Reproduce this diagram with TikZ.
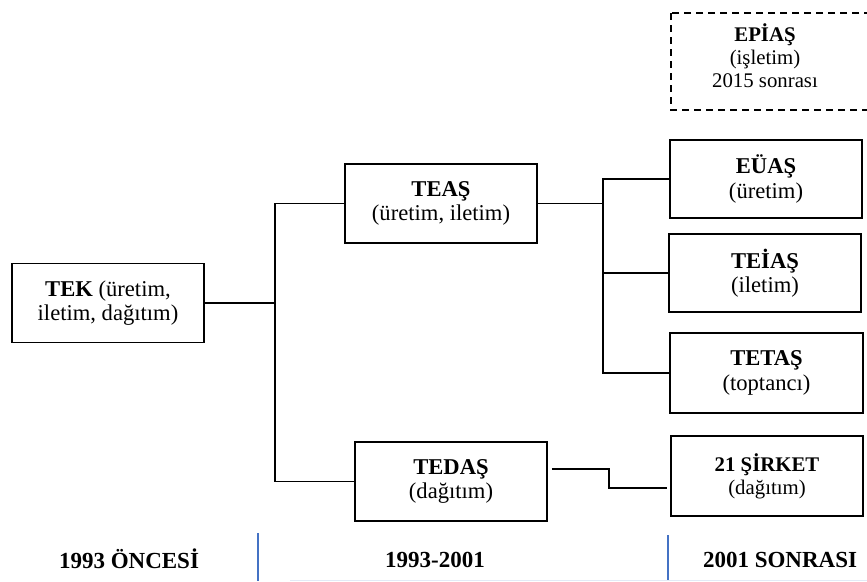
\documentclass[tikz,border=0pt]{standalone}
\usepackage{fontspec}
\setmainfont{Liberation Serif}
\usepackage{tikz}
\usetikzlibrary{calc}
\definecolor{mavi}{RGB}{68,114,196}
\definecolor{acikmavi}{RGB}{226,234,246}

\begin{document}
\begin{tikzpicture}[x=1pt,y=-1pt,
kutu/.style={draw,line width=1.9pt,minimum width=192pt,minimum height=79pt,inner sep=0pt,align=center,font=\fontsize{22.6}{24.5}\selectfont},
kucuk/.style={font=\fontsize{20.8}{23}\selectfont},
hat/.style={line width=1.7pt},
cizgili/.style={line width=1.7pt,dash pattern=on 7pt off 5pt},
donem/.style={anchor=base,font=\bfseries\fontsize{23}{25}\selectfont},
ayrac/.style={line width=2.2pt,mavi}]

\useasboundingbox (0,0) rectangle (867,581);
\clip (0,0) rectangle (867,581);

\node[kutu] (tek) at (108,303) {\textbf{TEK} (üretim,\\iletim, dağıtım)};
\node[kutu] (teas) at (441,203.5) {\textbf{TEAŞ}\\(üretim, iletim)};
\node[kutu] (tedas) at (451,481.5) {\textbf{TEDAŞ}\\(dağıtım)};
\node[kutu,minimum height=78pt] (euas) at (766,179) {\textbf{EÜAŞ}\\(üretim)};
\node[kutu,minimum height=78pt] (teias) at (765,273) {\textbf{TEİAŞ}\\(iletim)};
\node[kutu,minimum width=193pt,minimum height=80pt] (tetas) at (766.5,373) {\textbf{TETAŞ}\\(toptancı)};
\node[kutu,kucuk,minimum height=80pt] (sirket) at (767,476) {\textbf{21 ŞİRKET}\\(dağıtım)};

% 2015 sonrasi
\node[kucuk,align=center,inner sep=0pt] (epias) at (765,56) {\textbf{EPİAŞ}\\(işletim)\\2015 sonrası};
\draw[cizgili] (671,13) rectangle (890,110);

\coordinate (kol1) at (275,303);
\coordinate (kol2) at (603,203.5);

\draw[hat] (tek.east) -- (kol1);
\draw[hat] (teas.west) -| (kol1);
\draw[hat] (tedas.west) -| (kol1);

\draw[hat] (teas.east) -- (kol2);
\foreach \k in {euas,teias,tetas}
\draw[hat] (\k.west) -| (kol2);

\draw[hat] ([shift={(4,-12.5)}]tedas.east) -- ++(57,0) |- ([shift={(-3,12)}]sirket.west);

% donemler
\draw[ayrac] (258,533) -- (258,581);
\draw[ayrac] (668,535) -- (668,581);
\draw[line width=1pt,acikmavi] (290,580) -- (867,580);

\node[donem] (once) at (129,568) {1993 ÖNCESİ};
\node[donem] (ara) at (435,567) {1993-2001};
\node[donem] (sonra) at (780,567) {2001 SONRASI};

\end{tikzpicture}
\end{document}
